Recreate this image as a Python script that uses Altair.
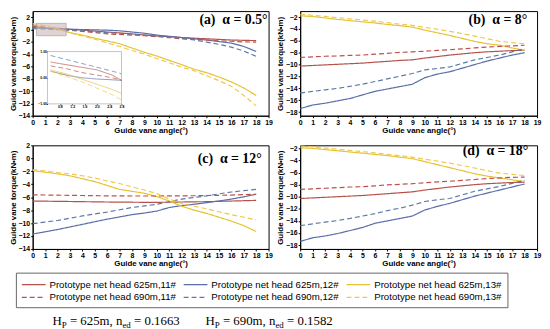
import altair as alt
import pandas as pd

# ---------------- data ----------------
angles = list(range(19))
s625_11 = "Prototype net head 625m,11#"
s625_12 = "Prototype net head 625m,12#"
s625_13 = "Prototype net head 625m,13#"
s690_11 = "Prototype net head 690m,11#"
s690_12 = "Prototype net head 690m,12#"
s690_13 = "Prototype net head 690m,13#"
series = [s625_11, s625_12, s625_13, s690_11, s690_12, s690_13]
# legend order (legend grid fills column by column)
legend_order = [s625_11, s690_11, s625_12, s690_12, s625_13, s690_13]
legend_colors = ["#b5534a", "#c0504d", "#5a6ea8", "#5b7ba6", "#e6c235", "#f0c84a"]
legend_dashes = [[1, 0], [5, 3], [1, 0], [5, 3], [1, 0], [5, 3]]

# panel (a) alpha = 0.5
a_625_11 = [0.4, 0.3, 0.2, 0.05, -0.1, -0.25, -0.4, -0.55, -0.7, -0.9, -1.05, -1.15, -1.3, -1.4, -1.5, -1.6, -1.7, -1.75, -1.8]
a_625_12 = [0.25, 0.2, 0.1, 0.05, 0.0, -0.05, -0.1, -0.2, -0.4, -0.6, -0.9, -1.1, -1.3, -1.5, -1.7, -1.95, -2.2, -2.75, -3.55]
a_625_13 = [0.7, 0.4, 0.15, -0.5, -0.9, -1.4, -1.85, -2.3, -3.0, -3.7, -4.3, -5.0, -5.7, -6.45, -7.0, -7.7, -8.5, -9.5, -10.7]
a_690_11 = [0.55, 0.35, 0.15, -0.1, -0.3, -0.5, -0.7, -0.8, -0.9, -1.0, -1.15, -1.3, -1.5, -1.6, -1.7, -1.85, -1.9, -2.0, -2.05]
a_690_12 = [0.15, 0.1, 0.0, -0.1, -0.2, -0.35, -0.5, -0.6, -0.75, -0.9, -1.05, -1.2, -1.4, -1.7, -2.05, -2.4, -2.85, -3.5, -4.35]
a_690_13 = [0.95, 0.6, 0.15, -0.55, -1.05, -1.55, -2.15, -2.75, -3.4, -4.0, -4.7, -5.4, -6.1, -6.7, -7.5, -8.3, -9.2, -10.7, -12.4]

# panel (b) alpha = 8
b_625_11 = [-10.25, -10.15, -10.05, -9.95, -9.85, -9.75, -9.6, -9.45, -9.3, -9.2, -8.9, -8.65, -8.4, -8.2, -8.0, -7.85, -7.75, -7.65, -7.6]
b_625_12 = [-17.4, -16.8, -16.5, -16.1, -15.7, -15.1, -14.5, -14.1, -13.7, -13.3, -12.2, -11.6, -11.2, -10.6, -10.0, -9.4, -8.9, -8.4, -8.0]
b_625_13 = [-1.8, -1.9, -2.15, -2.4, -2.6, -2.8, -3.0, -3.25, -3.45, -3.7, -4.2, -4.65, -5.1, -5.6, -6.1, -6.5, -6.75, -7.2, -7.6]
b_690_11 = [-8.8, -8.7, -8.6, -8.55, -8.45, -8.4, -8.25, -8.1, -7.95, -7.85, -7.75, -7.6, -7.5, -7.35, -7.2, -7.05, -6.95, -6.85, -6.75]
b_690_12 = [-14.8, -14.5, -14.25, -14.0, -13.65, -13.3, -12.85, -12.4, -11.95, -11.5, -10.9, -10.65, -10.4, -9.8, -9.2, -8.8, -8.4, -7.85, -7.3]
b_690_13 = [-1.55, -1.7, -1.9, -2.1, -2.3, -2.5, -2.7, -2.95, -3.2, -3.4, -3.75, -4.05, -4.4, -4.8, -5.2, -5.65, -6.1, -6.3, -6.5]

# panel (c) alpha = 12
c_625_11 = [-6.6, -6.62, -6.65, -6.67, -6.7, -6.72, -6.75, -6.77, -6.78, -6.8, -6.8, -6.78, -6.75, -6.72, -6.7, -6.65, -6.6, -6.55, -6.5]
c_625_12 = [-11.7, -11.35, -11.0, -10.6, -10.2, -9.8, -9.4, -9.05, -8.7, -8.45, -8.15, -7.6, -7.3, -7.1, -6.85, -6.6, -6.3, -5.95, -5.55]
c_625_13 = [-1.9, -2.15, -2.4, -2.7, -3.15, -3.6, -4.2, -4.8, -5.1, -5.4, -5.9, -6.6, -7.4, -8.0, -8.5, -9.1, -9.7, -10.4, -11.3]
c_690_11 = [-5.65, -5.67, -5.7, -5.72, -5.75, -5.77, -5.8, -5.8, -5.82, -5.82, -5.82, -5.8, -5.8, -5.78, -5.75, -5.72, -5.68, -5.6, -5.55]
c_690_12 = [-10.1, -9.85, -9.6, -9.25, -8.9, -8.6, -8.3, -7.95, -7.6, -7.35, -7.1, -6.7, -6.3, -6.05, -5.8, -5.5, -5.2, -5.0, -4.8]
c_690_13 = [-1.75, -1.95, -2.2, -2.4, -2.7, -3.05, -3.5, -3.9, -4.4, -4.9, -5.45, -6.3, -7.0, -7.4, -7.8, -8.25, -8.7, -9.1, -9.5]

# panel (d) alpha = 18
d_625_11 = [-10.3, -10.2, -10.1, -10.0, -9.9, -9.8, -9.65, -9.5, -9.35, -9.2, -8.9, -8.65, -8.4, -8.2, -8.0, -7.85, -7.75, -7.65, -7.6]
d_625_12 = [-17.4, -16.8, -16.5, -16.1, -15.6, -15.1, -14.4, -14.0, -13.6, -13.2, -12.2, -11.6, -11.1, -10.5, -9.9, -9.4, -8.9, -8.4, -7.9]
d_625_13 = [-1.9, -2.0, -2.2, -2.4, -2.6, -2.8, -3.0, -3.2, -3.45, -3.7, -4.2, -4.7, -5.2, -5.7, -6.2, -6.6, -6.9, -7.2, -7.5]
d_690_11 = [-8.8, -8.7, -8.6, -8.5, -8.4, -8.35, -8.2, -8.05, -7.95, -7.85, -7.7, -7.55, -7.45, -7.3, -7.15, -7.0, -6.9, -6.8, -6.75]
d_690_12 = [-14.8, -14.5, -14.2, -13.95, -13.6, -13.2, -12.8, -12.3, -11.9, -11.4, -10.8, -10.5, -10.3, -9.7, -9.1, -8.7, -8.3, -7.8, -7.3]
d_690_13 = [-1.6, -1.75, -1.95, -2.15, -2.35, -2.55, -2.75, -3.0, -3.2, -3.45, -3.8, -4.1, -4.45, -4.85, -5.25, -5.7, -6.1, -6.3, -6.5]

# inset of panel (a)
inset_x = [0.5, 1.0, 1.5, 2.0, 2.5, 2.8]
i_625_11 = [0.6, 0.5, 0.4, 0.3, 0.1, -0.1]
i_625_12 = [0.25, 0.1, 0.0, -0.05, -0.08, -0.1]
i_625_13 = [0.3, 0.15, -0.05, -0.25, -0.45, -0.6]
i_690_11 = [0.45, 0.35, 0.2, 0.1, 0.0, -0.1]
i_690_12 = [0.85, 0.7, 0.55, 0.4, 0.25, 0.15]
i_690_13 = [0.25, 0.05, -0.15, -0.4, -0.65, -0.85]

x_ticks = list(range(20))
y_ticks_a = [2, 0, -2, -4, -6, -8, -10, -12, -14]
y_ticks_b = [-2, -4, -6, -8, -10, -12, -14, -16, -18]
inset_xticks = [0.8, 1.2, 1.6, 2.0, 2.4, 2.8]
inset_yticks = [1.0, 0.75, 0.5, 0.25, 0.0, -0.25, -0.5, -0.75, -1.0]

panel_titles = ["(a)\u00a0\u00a0\u03b1 = 0.5\u00b0", "(b)\u00a0\u00a0\u03b1 = 8\u00b0",
                "(c)\u00a0\u00a0\u03b1 = 12\u00b0", "(d)\u00a0\u00a0\u03b1 = 18\u00b0"]

X_TITLE = "Guide vane angle(\u00b0)"
Y_TITLE = "Guide vane torque(kN\u2022m)"


def long_df(cols, xs):
    rows = []
    for s, vals in zip(series, cols):
        for xv, yv in zip(xs, vals):
            rows.append({"angle": xv, "torque": yv, "series": s})
    return pd.DataFrame(rows)


color_scale = alt.Scale(domain=legend_order, range=legend_colors)
dash_scale = alt.Scale(domain=legend_order, range=legend_dashes)

W1, W2, H1, H2 = 239, 240, 106, 105


def xenc(field, ydom=None):
    return alt.X(field, scale=alt.Scale(domain=[0, 19], nice=False), title=X_TITLE,
                 axis=alt.Axis(values=x_ticks, labelFlush=False))


def yenc(field, ydom, yticks):
    return alt.Y(field, scale=alt.Scale(domain=ydom, nice=False, zero=False), title=Y_TITLE,
                 axis=alt.Axis(values=yticks))


def panel(cols, ydom, yticks, title, tx, ty):
    df = long_df(cols, angles)
    lines = alt.Chart(df).mark_line(strokeWidth=1.2, clip=True).encode(
        x=xenc("angle:Q"),
        y=yenc("torque:Q", ydom, yticks),
        color=alt.Color("series:N", scale=color_scale, title=None),
        strokeDash=alt.StrokeDash("series:N", scale=dash_scale, title=None),
        detail="series:N",
    )
    label = alt.Chart(pd.DataFrame({"t": [title]})).mark_text(
        font="Liberation Serif", fontSize=14, fontWeight="bold", align="right", baseline="middle", color="black"
    ).encode(text="t:N", x=alt.value(tx), y=alt.value(ty))
    return lines, label


# panel (a) with highlight and inset
A_YDOM = [-14, 3]
a_lines, a_label = panel([a_625_11, a_625_12, a_625_13, a_690_11, a_690_12, a_690_13],
                         A_YDOM, y_ticks_a, panel_titles[0], W1 - 1, 9)
hl = alt.Chart(pd.DataFrame({"x0": [0.3], "x1": [2.7], "y0": [-1.0], "y1": [1.0]})).mark_rect(
    fill="#c9b6b6", fillOpacity=0.6, stroke="#999999", strokeWidth=0.6
).encode(x=xenc("x0:Q"), x2="x1:Q", y=yenc("y0:Q", A_YDOM, y_ticks_a), y2="y1:Q")

ixs = alt.Scale(domain=[0.4, 2.8], range=[15, 90], nice=False)
iys = alt.Scale(domain=[-1, 1], range=[94, 41], nice=False, zero=False)
inset_frame = alt.Chart(pd.DataFrame({"x0": [0.4], "x1": [2.8], "y0": [-1.0], "y1": [1.0]})).mark_rect(
    fill="white", stroke="#9a9a9a", strokeWidth=0.6
).encode(
    x=alt.X("x0:Q", scale=ixs, title=None,
            axis=alt.Axis(orient="bottom", offset=-(H1 - 94), values=inset_xticks, format=".1f",
                          labelFontSize=3.5, tickSize=1, labelPadding=0, domain=False, labelFlush=False)),
    x2="x1:Q",
    y=alt.Y("y0:Q", scale=iys, title=None,
            axis=alt.Axis(orient="left", offset=-15, values=inset_yticks, format=".2f",
                          labelFontSize=3.5, tickSize=1, labelPadding=0, domain=False)),
    y2="y1:Q",
)
inset_lines = alt.Chart(long_df([i_625_11, i_625_12, i_625_13, i_690_11, i_690_12, i_690_13], inset_x)).mark_line(
    strokeWidth=0.7
).encode(
    x=alt.X("angle:Q", scale=ixs), y=alt.Y("torque:Q", scale=iys),
    color=alt.Color("series:N", scale=color_scale, title=None),
    strokeDash=alt.StrokeDash("series:N", scale=dash_scale, title=None),
    detail="series:N",
)
panel_a = alt.layer(
    alt.layer(a_lines, hl, a_label),
    alt.layer(inset_frame, inset_lines),
).resolve_scale(x="independent", y="independent").properties(width=W1, height=H1)

b_lines, b_label = panel([b_625_11, b_625_12, b_625_13, b_690_11, b_690_12, b_690_13],
                         [-18.6, -1], y_ticks_b, panel_titles[1], 230, 9)
panel_b = alt.layer(b_lines, b_label).properties(width=W2, height=H1)

c_lines, c_label = panel([c_625_11, c_625_12, c_625_13, c_690_11, c_690_12, c_690_13],
                         [-14, 2], y_ticks_a, panel_titles[2], 232, 14)
panel_c = alt.layer(c_lines, c_label).properties(width=W1, height=H2)

d_lines, d_label = panel([d_625_11, d_625_12, d_625_13, d_690_11, d_690_12, d_690_13],
                         [-18.65, -1.5], y_ticks_b, panel_titles[3], 231, 6)
panel_d = alt.layer(d_lines, d_label).properties(width=W2, height=H2)


# bottom formula text
def formula(x0, hp, ned, base):
    pieces = [
        ("H", 0, 0, 13), ("P", 9.4, 3, 9), ("= " + hp + ", n", 17.7, 0, 13),
        ("ed", 70.9, 3, 9), ("= " + ned, 82.7, 0, 13),
    ]
    layers = []
    for txt, dx, dy, fs in pieces:
        layers.append(alt.Chart(pd.DataFrame({"t": [txt]})).mark_text(
            font="Liberation Serif", fontSize=fs, align="left", baseline="alphabetic", color="black"
        ).encode(text="t:N", x=alt.value(x0 + dx), y=alt.value(base + dy)))
    return layers


BASE = 51
text_row = alt.layer(
    *formula(20, "625m", "0.1663", BASE), *formula(175, "690m", "0.1582", BASE)
).properties(width=500, height=44, view=alt.ViewBackground(stroke="transparent"))

chart = alt.vconcat(
    alt.hconcat(panel_a, panel_b, spacing=2),
    alt.hconcat(panel_c, panel_d, spacing=2),
    text_row,
    spacing=5,
).properties(padding=0).configure_axis(
    labelFont="Liberation Sans", labelFontWeight="bold", labelFontSize=7, labelColor="black",
    titleFont="Liberation Sans", titleFontWeight="bold", titleFontSize=8, titleColor="black",
    tickSize=2, labelPadding=1, titlePadding=1, domainColor="black", tickColor="black", grid=False,
    labelOverlap=False,
).configure_view(stroke="black", strokeWidth=1).configure_legend(
    orient="none", legendX=-17, legendY=265, columns=3, symbolType="M-1,0H3", symbolSize=144,
    symbolStrokeWidth=1.2, labelFont="Liberation Sans", labelFontSize=9.8, labelColor="black",
    strokeColor="#666666", padding=5, rowPadding=1, columnPadding=4, labelOffset=15, labelLimit=300,
)

chart.save("out.html", embed_options={"renderer": "svg", "actions": False})
